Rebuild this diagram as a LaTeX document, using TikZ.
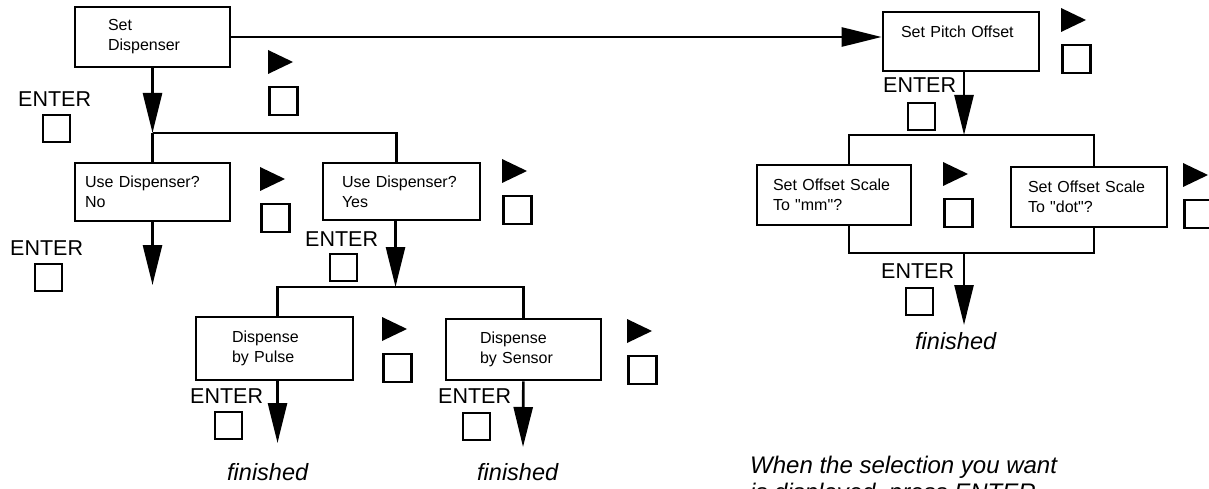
\documentclass[tikz,border=0pt]{standalone}
\usepackage{fontspec}
\setmainfont{Liberation Sans}[Ligatures=TeXOff]
\usetikzlibrary{arrows.meta,positioning}
\begin{document}
\begin{tikzpicture}[x=1pt,y=-1pt,
  panel/.style={draw,line width=2.6pt,inner ysep=0pt,align=left,font=\fontsize{16}{20}\selectfont},
  wire/.style={line width=2.6pt},
  flow/.style={wire,-{Triangle[length=40pt,width=19pt]}},
  keylbl/.style={inner sep=0pt,anchor=base west,font=\fontsize{21.5}{24}\selectfont},
  keysq/.style={draw,line width=2.3pt,minimum size=27pt,inner sep=0pt,xshift=2pt},
  donelbl/.style={inner sep=0pt,anchor=base west,font=\itshape\fontsize{23.5}{27}\selectfont},
  keypair/.pic={\fill (0,0) -- (25,12) -- (0,24) -- cycle;
    \draw[line width=2.3pt] (1.5,37) rectangle ++(28,28);}]
\path[use as bounding box] (0,0) rectangle (1209,489);
\clip (0,0) rectangle (1209,489);
% menu panels
\node[panel,inner xsep=33pt,text width=89pt,minimum height=60pt] (setdisp) at (152.5,37) {Set\\Dispenser};
\node[panel,inner xsep=10pt,text width=135pt,minimum height=58pt] (nobox) at (152.5,192) {Use Dispenser?\\No};
\node[panel,inner xsep=19pt,text width=119pt,minimum height=57pt] (yesbox) at (401.5,191.5) {Use Dispenser?\\Yes};
\node[panel,inner xsep=36pt,text width=85pt,minimum height=63pt] (pulse) at (274.5,348.5) {Dispense\\by Pulse};
\node[panel,inner xsep=34pt,text width=87pt,minimum height=61pt] (sensor) at (523.5,349.5) {Dispense\\by Sensor};
\node[panel,inner xsep=18pt,text width=120pt,minimum height=59pt] (pitch) at (961,41.5) {Set Pitch Offset\\\mbox{}};
\node[panel,inner xsep=16pt,text width=122pt,minimum height=60pt] (mmbox) at (834,195) {Set Offset Scale\\To "mm"?};
\node[panel,inner xsep=17pt,text width=122pt,minimum height=60pt] (dotbox) at (1089,197) {Set Offset Scale\\To "dot"?};
% branch points
\coordinate (fork1) at (152.5,133);
\coordinate (noend) at (152.5,285);
\coordinate (fork2) at (395.5,287);
\coordinate (pulseend) at (277.5,443);
\coordinate (sensorend) at (523,447);
\coordinate (fork3) at (964,135);
\coordinate (join3) at (964,253);
\coordinate (pitchend) at (964,325);
% connectors
\draw[flow] (setdisp.east) -- (setdisp.east -| pitch.west);
\draw[flow] (setdisp) -- (fork1);
\draw[wire] (fork1) -- (nobox.north);
\draw[wire] (fork1) -| ([xshift=-5pt]yesbox.north);
\draw[flow] (nobox) -- (noend);
\draw[flow] ([xshift=-6pt]yesbox.south) -- (fork2);
\draw[wire] (fork2) -| ([xshift=3pt]pulse.north);
\draw[wire] (fork2) -| (sensor.north);
\draw[flow] ([xshift=3pt]pulse.south) -- (pulseend);
\draw[flow] (sensor) -- (sensorend);
\draw[flow] ([xshift=3pt]pitch.south) -- (fork3);
\draw[wire] ([xshift=15pt]mmbox.north) |- (fork3) -| ([xshift=5pt]dotbox.north);
\draw[wire] ([xshift=15pt]mmbox.south) |- (join3) -| ([xshift=5pt]dotbox.south);
\draw[flow] (join3) -- (pitchend);
% cursor keys
\pic at (268,50) {keypair};
\pic at (260,167) {keypair};
\pic at (502,159) {keypair};
\pic at (382,317) {keypair};
\pic at (627,319) {keypair};
\pic at (1061,8) {keypair};
\pic at (943,162) {keypair};
\pic at (1183,163) {keypair};
% enter keys
\node[keylbl] (ent1) at (18,107) {ENTER};
\node[keysq,below=7pt of ent1.base] (ent1sq) {};
\node[keylbl] (ent2) at (10,255) {ENTER};
\node[keysq,below=8pt of ent2.base] (ent2sq) {};
\node[keylbl] (ent3) at (305,246) {ENTER};
\node[keysq,below=7pt of ent3.base] (ent3sq) {};
\node[keylbl] (ent4) at (190,403) {ENTER};
\node[keysq,below=8pt of ent4.base] (ent4sq) {};
\node[keylbl] (ent5) at (438,403) {ENTER};
\node[keysq,below=9pt of ent5.base] (ent5sq) {};
\node[keylbl] (ent6) at (883,93) {ENTER};
\node[keysq,below=9pt of ent6.base] (ent6sq) {};
\node[keylbl] (ent7) at (881,278) {ENTER};
\node[keysq,below=9pt of ent7.base] (ent7sq) {};
% results
\node[donelbl] (done1) at (227,480) {finished};
\node[donelbl] (done2) at (477,480) {finished};
\node[donelbl] (done3) at (915,349) {finished};
\node[donelbl,font=\itshape\fontsize{24}{27}\selectfont] (note1) at (750,473) {When the selection you want};
\node[donelbl,font=\itshape\fontsize{24}{27}\selectfont] (note2) at (750,500) {is displayed, press ENTER.};
\end{tikzpicture}
\end{document}
